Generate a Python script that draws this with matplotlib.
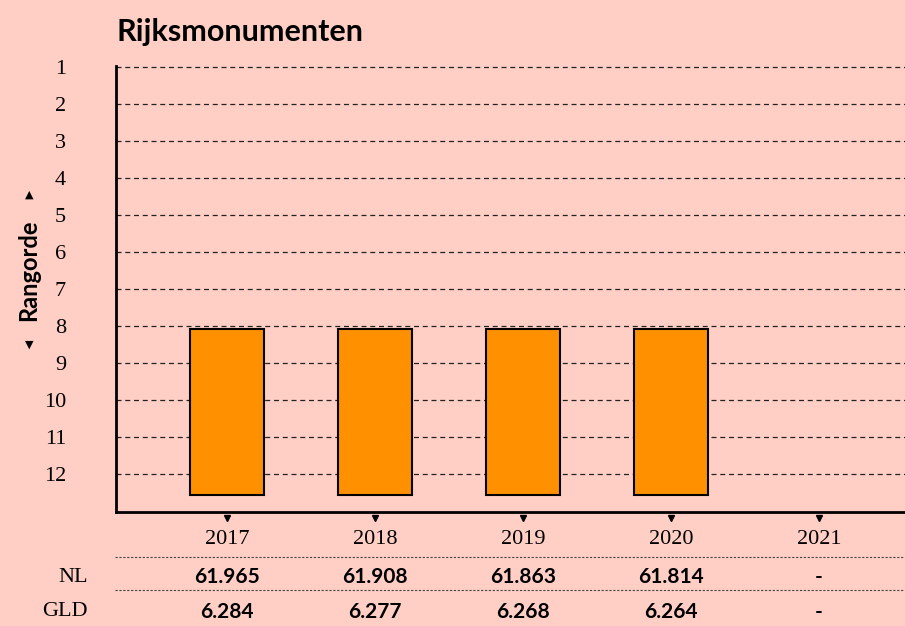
import matplotlib
matplotlib.use("Agg")
import matplotlib.pyplot as plt
import matplotlib.transforms as mtransforms

years = ["2017", "2018", "2019", "2020", "2021"]
rank = [8, 8, 8, 8, None]
rank_ticks = [1, 2, 3, 4, 5, 6, 7, 8, 9, 10, 11, 12]
nl_values = ["61.965", "61.908", "61.863", "61.814", "-"]
gld_values = ["6.284", "6.277", "6.268", "6.264", "-"]
row_labels = ["NL", "GLD"]
title = "Rijksmonumenten"
ylabel = "Rangorde"

BG = "#FFCFC6"
BAR = "#FF9100"
SERIF = "Liberation Serif"
SANS = ["Lato", "DejaVu Sans"]

W, H = 905, 626
fig = plt.figure(figsize=(W / 100, H / 100), dpi=100, facecolor=BG)
ax = fig.add_axes([116 / W, 1 - 512 / H, 789 / W, (512 - 66) / H])
ax.set_facecolor(BG)

base = 12.57
ymax = 13.03
ax.set_ylim(ymax, 0.97)
ax.set_xlim(-0.75, 4.58)

for r in rank_ticks:
    ax.axhline(r, color="#222222", lw=0.9, ls=(0, (4, 3)), zorder=1)

xs = list(range(len(years)))
for x, r in zip(xs, rank):
    if r is None:
        continue
    ax.bar(x, base - r - 0.07, bottom=r + 0.07, width=0.505, color=BAR,
           edgecolor="black", linewidth=1.5, zorder=3)

for s in ["top", "right"]:
    ax.spines[s].set_visible(False)
ax.spines["left"].set_linewidth(2)
ax.spines["bottom"].set_linewidth(2)

ax.set_yticks(rank_ticks)
ax.set_yticklabels([str(r) for r in rank_ticks], fontfamily=SERIF, fontsize=16)
ax.tick_params(axis="y", length=0, pad=36)
for lbl in ax.get_yticklabels():
    lbl.set_horizontalalignment("right")

ax.set_xticks(xs)
ax.set_xticklabels(years, fontfamily=SERIF, fontsize=16)
ax.tick_params(axis="x", length=0, pad=13)

blend = mtransforms.blended_transform_factory(ax.transData, ax.transAxes)
ax.plot(xs, [-0.014] * len(xs), transform=blend, ls="none", marker="v",
        color="black", markersize=5, clip_on=False, zorder=5)

fig.text(116 / W, 1 - 32 / H, title, fontfamily=SANS, fontweight="bold",
         fontsize=22, ha="left", va="center")
fig.text(29 / W, 1 - 270 / H, ylabel, fontfamily=SANS, fontweight="bold",
         fontsize=17, rotation=90, ha="center", va="center")
fig.text(29 / W, 1 - 195 / H, "\u25b2", fontfamily="DejaVu Sans",
         fontsize=8, ha="center", va="center")
fig.text(29 / W, 1 - 345 / H, "\u25bc", fontfamily="DejaVu Sans",
         fontsize=8, ha="center", va="center")

# table rows
for yline in [557, 590]:
    fig.add_artist(plt.Line2D([115 / W, 1.0], [1 - yline / H] * 2,
                              color="#444444", lw=0.8, ls=(0, (2, 1.5))))

row_y = [577, 612]
for label, vals, yy in zip(row_labels, [nl_values, gld_values], row_y):
    fig.text(88 / W, 1 - yy / H, label, fontfamily=SERIF, fontsize=16,
             ha="right", va="center")
    for x, v in zip(xs, vals):
        xf = fig.transFigure.inverted().transform(ax.transData.transform((x, 0)))[0]
        fig.text(xf, 1 - yy / H, v, fontfamily=SANS, fontweight="bold",
                 fontsize=15, ha="center", va="center")

fig.savefig("out.png", dpi=100, facecolor=BG)
